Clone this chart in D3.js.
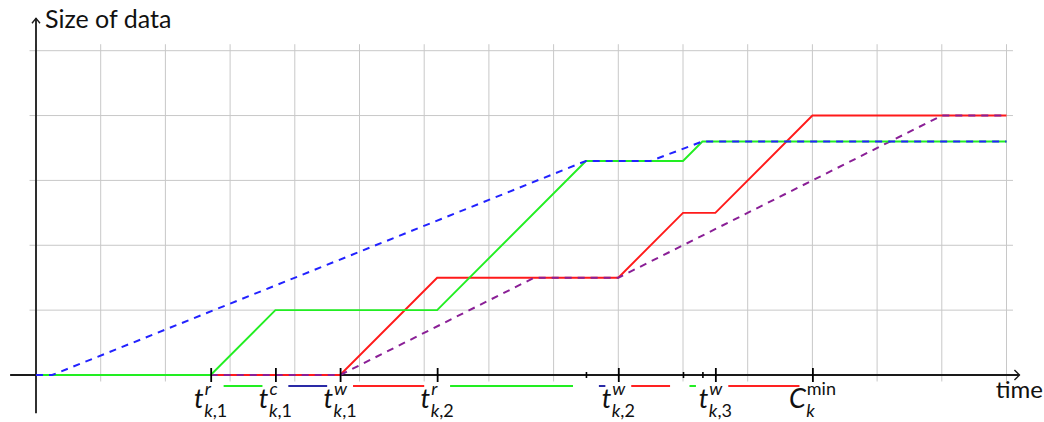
<!DOCTYPE html>
<html>
<head>
<meta charset="utf-8">
<script src="https://cdn.jsdelivr.net/npm/d3@7"></script>
<style>
  html, body { margin: 0; padding: 0; background: #fff; }
  svg { display: block; }
  text { font-family: Lato, "Open Sans", sans-serif; fill: #111; }
</style>
</head>
<body>
<svg id="chart" width="1044" height="422"></svg>
<script>
// Cumulative data size over time for one job k (time units / size units)
const greenPts  = [[0,0],[2.7,0],[3.7,1],[6.2,1],[8.5,3.3],[10,3.3],[10.3,3.6],[15,3.6]];
const redPts    = [[0,0],[4.7,0],[6.2,1.5],[9,1.5],[10,2.5],[10.5,2.5],[12,4],[15,4]];
const bluePts   = [[0,0],[0.25,0],[8.5,3.3],[9.5,3.3],[10.3,3.6],[15,3.6]];
const purplePts = [[2.7,0],[4.7,0],[7.7,1.5],[9,1.5],[14,4],[15,4]];

// Labelled instants on the time axis
const majorTicks = [2.7, 3.7, 4.7, 6.2, 9.0, 10.5, 12.0];
const tickBase   = ["t", "t", "t", "t", "t", "t", "C"];
const tickSup    = ["r", "c", "w", "r", "w", "w", "min"];
const tickSub    = ["k,1", "k,1", "k,1", "k,2", "k,2", "k,3", "k"];
const minorTicks = [8.5, 10.0, 10.3];

// Phases shown under the axis: [start, end, kind]
const phases = [
  [2.7, 3.7, "read"], [3.7, 4.7, "compute"], [4.7, 6.2, "write"],
  [6.2, 8.5, "read"], [8.5, 9.0, "compute"], [9.0, 10.0, "write"],
  [10.0, 10.3, "read"], [10.5, 12.0, "write"]
];
const phaseColor = { read: "#22ee22", compute: "#2a2aa6", write: "#ff2222" };

const svg = d3.select("#chart");
const x = d3.scaleLinear().domain([0, 15]).range([36, 1006.5]);
const y = d3.scaleLinear().domain([0, 5]).range([375, 50.7]);

// Grid
const grid = svg.append("g").attr("stroke", "#c8c8c8").attr("stroke-width", 1);
grid.selectAll("line.v").data(d3.range(0, 16)).join("line")
  .attr("x1", d => x(d)).attr("x2", d => x(d))
  .attr("y1", y(-0.1)).attr("y2", y(5.1));
grid.selectAll("line.h").data(d3.range(0, 6)).join("line")
  .attr("x1", x(-0.1)).attr("x2", x(15.1))
  .attr("y1", d => y(d)).attr("y2", d => y(d));

// Axes with open arrow heads
const axisColor = "#1a1a1a";
svg.append("line").attr("x1", x(-0.4)).attr("x2", x(15.2))
  .attr("y1", y(0)).attr("y2", y(0))
  .attr("stroke", axisColor).attr("stroke-width", 1.8);
svg.append("path")
  .attr("d", `M${x(15.2) - 5},${y(0) - 5} L${x(15.2)},${y(0)} L${x(15.2) - 5},${y(0) + 5}`)
  .attr("fill", "none").attr("stroke", axisColor).attr("stroke-width", 1.4);
svg.append("line").attr("x1", x(0)).attr("x2", x(0))
  .attr("y1", y(-0.59)).attr("y2", y(5.5))
  .attr("stroke", axisColor).attr("stroke-width", 1.8);
svg.append("path")
  .attr("d", `M${x(0) - 4},${y(5.5) + 5} L${x(0)},${y(5.5)} L${x(0) + 4},${y(5.5) + 5}`)
  .attr("fill", "none").attr("stroke", axisColor).attr("stroke-width", 1.4);

svg.append("text").attr("x", x(0) + 9).attr("y", 28)
  .attr("font-size", 25).text("Size of data");
svg.append("text").attr("x", x(15.2)).attr("y", 398)
  .attr("text-anchor", "middle").attr("font-size", 24).text("time");

// Data curves
const line = d3.line().x(d => x(d[0])).y(d => y(d[1]));
svg.append("path").datum(redPts).attr("d", line)
  .attr("fill", "none").attr("stroke", "#ff1a1a").attr("stroke-width", 1.9);
svg.append("path").datum(purplePts).attr("d", line)
  .attr("fill", "none").attr("stroke", "#8a1f96").attr("stroke-width", 2)
  .attr("stroke-dasharray", "7,6");
svg.append("path").datum(greenPts).attr("d", line)
  .attr("fill", "none").attr("stroke", "#22ee22").attr("stroke-width", 1.9);
svg.append("path").datum(bluePts).attr("d", line)
  .attr("fill", "none").attr("stroke", "#2222ff").attr("stroke-width", 2)
  .attr("stroke-dasharray", "7,6");

// Ticks on the time axis
const majorAxis = d3.axisBottom(x).tickValues(majorTicks).tickSize(7).tickFormat("");
const gMajor = svg.append("g").attr("transform", `translate(0,${y(0)})`).call(majorAxis);
gMajor.select(".domain").remove();
gMajor.selectAll(".tick line").attr("y1", -7).attr("stroke", "#000").attr("stroke-width", 1.8);

const minorAxis = d3.axisBottom(x).tickValues(minorTicks).tickSize(3).tickFormat("");
const gMinor = svg.append("g").attr("transform", `translate(0,${y(0)})`).call(minorAxis);
gMinor.select(".domain").remove();
gMinor.selectAll(".tick line").attr("y1", -3).attr("stroke", "#000").attr("stroke-width", 1.6);

// Phase bars just below the axis, inset from the surrounding instants
const pad = 0.2;
svg.append("g").selectAll("line").data(phases).join("line")
  .attr("x1", d => x(d[0] + pad)).attr("x2", d => x(d[1] - pad))
  .attr("y1", 386).attr("y2", 386)
  .attr("stroke", d => phaseColor[d[2]]).attr("stroke-width", 2);

// Tick labels: one text each, italic base letter with stacked super/subscript
const baseSize = 27, scriptSize = 18;
const probe = svg.append("text").attr("font-size", baseSize).attr("font-style", "italic");
majorTicks.forEach((v, i) => {
  probe.text(tickBase[i]);
  const bw = probe.node().getComputedTextLength();
  const t = svg.append("text");
  t.append("tspan").attr("x", 0).attr("y", 408)
    .attr("font-size", baseSize).attr("font-style", "italic").text(tickBase[i]);
  t.append("tspan").attr("x", bw + 1).attr("y", 395)
    .attr("font-size", scriptSize)
    .attr("font-style", tickSup[i] === "min" ? "normal" : "italic")
    .text(tickSup[i]);
  tickSub[i].split(",").forEach((part, j) => {
    if (j > 0) t.append("tspan").attr("font-size", scriptSize).text(",");
    const s = t.append("tspan").attr("font-size", scriptSize)
      .attr("font-style", j === 0 ? "italic" : "normal").text(part);
    if (j === 0) s.attr("x", bw + 0.5).attr("y", 417);
  });
  const bb = t.node().getBBox();
  t.attr("transform", `translate(${x(v) - bb.x - bb.width / 2},0)`);
});
probe.remove();
</script>
</body>
</html>
